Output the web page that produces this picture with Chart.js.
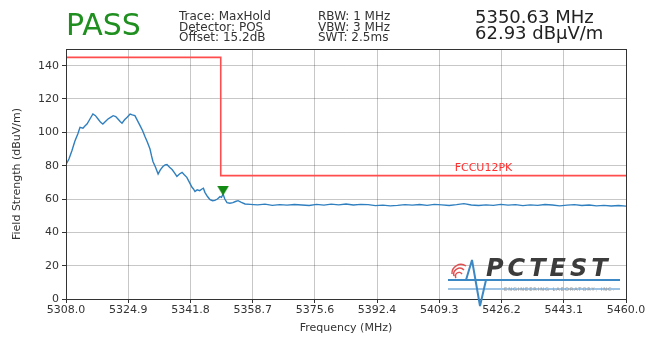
<!DOCTYPE html>
<html>
<head>
<meta charset="utf-8">
<script src="https://cdn.jsdelivr.net/npm/chart.js@4.4.1/dist/chart.umd.min.js"></script>
<style>
  body { margin: 0; background: #fff; }
  #wrap { position: relative; width: 659px; height: 339px; font-family: "DejaVu Sans", sans-serif; color: #333; }
  .hd { position: absolute; white-space: nowrap; }
  #pass { left: 66px; top: 7px; font-size: 30px; color: #1f8f1f; }
  .info { font-size: 12px; line-height: 10.5px; top: 11px; }
  #mk { left: 475px; top: 9px; font-size: 18px; line-height: 16px; color: #222; }
  #logo { position: absolute; left: 444px; top: 252px; width: 180px; height: 56px; }
  #logo .txt { position: absolute; left: 42px; top: 2px; font: italic bold 24px "DejaVu Sans", sans-serif; color: #3c3c3c; letter-spacing: 4px; }
  #logo .sub { position: absolute; left: 60px; top: 34px; font-size: 5px; color: #999; letter-spacing: 1px; }
</style>
</head>
<body>
<div id="wrap">
  <canvas id="chartzz" width="659" height="339"></canvas>
  <div class="hd" id="pass">PASS</div>
  <div class="hd info" style="left:179px">Trace: MaxHold<br>Detector: POS<br>Offset: 15.2dB</div>
  <div class="hd info" style="left:318px">RBW: 1 MHz<br>VBW: 3 MHz<br>SWT: 2.5ms</div>
  <div class="hd" id="mk">5350.63 MHz<br>62.93 dBµV/m</div>
  <div id="logo">
    <svg width="180" height="56" style="position:absolute;left:0;top:0">
      <path d="M8 22 a9 9 0 0 1 14 -8 M10 24 a6 6 0 0 1 10 -6 M12 26 a3 3 0 0 1 6 -4" stroke="#e05050" stroke-width="1.5" fill="none"/>
      <line x1="4" y1="37" x2="176" y2="37" stroke="#9cc3e4" stroke-width="2"/>
      <line x1="4" y1="28" x2="176" y2="28" stroke="#3b88c4" stroke-width="2"/>
      <path d="M4 28 L22 28 L28 8 L36 54 L42 28" stroke="#3b88c4" stroke-width="2" fill="none"/>
    </svg>
    <div class="txt">PCTEST</div>
    <div class="sub">ENGINEERING LABORATORY, INC.</div>
  </div>
</div>
<script>
// trace (MaxHold)
const freqs = [5308.0, 5308.8, 5309.6, 5310.4, 5311.2, 5311.8, 5312.6, 5313.2, 5313.7, 5314.5,
  5315.3, 5316.0, 5316.7, 5317.4, 5318.0, 5318.7, 5319.4, 5320.1, 5320.8, 5321.5,
  5322.1, 5322.7, 5323.2, 5323.9, 5324.6, 5325.4, 5326.0, 5326.7, 5327.4, 5328.1,
  5328.8, 5329.4, 5330.1, 5330.8, 5331.2, 5331.6, 5332.3, 5333.0, 5333.6, 5334.3,
  5334.9, 5335.4, 5336.1, 5336.8, 5337.5, 5338.1, 5338.8, 5339.5, 5340.1, 5340.8,
  5341.5, 5342.2, 5342.6, 5343.0, 5343.6, 5344.3, 5344.9, 5345.3, 5345.7, 5346.4,
  5347.1, 5347.8, 5348.4, 5349.1, 5349.8, 5350.2, 5350.63, 5351.1, 5351.7, 5352.5,
  5353.3, 5354.0, 5354.7, 5355.6, 5356.6, 5358, 5360, 5362, 5364, 5366,
  5368, 5370, 5372, 5374, 5376, 5378, 5380, 5382, 5384, 5386,
  5388, 5390, 5392, 5394, 5396, 5398, 5400, 5402, 5404, 5406,
  5408, 5410, 5412, 5414, 5416, 5418, 5420, 5422, 5424, 5426,
  5428, 5430, 5432, 5434, 5436, 5438, 5440, 5442, 5444, 5446,
  5448, 5450, 5452, 5454, 5456, 5458, 5460];
const levels = [80.7, 84, 89, 94.6, 99, 103, 102.5, 104, 105, 108,
  111, 110, 108, 106, 105, 106.5, 108, 109, 110, 109.5,
  108, 106.5, 105.5, 107.5, 109, 111, 110.5, 110, 107, 104,
  101, 97.6, 94, 90, 86, 82.5, 79, 75, 77.5, 79.5,
  80.5, 80.7, 79, 77.7, 75.5, 73.5, 75, 76, 74.5, 73,
  70, 67, 66, 64.5, 65.5, 65, 66, 66.5, 64, 61.5,
  59.6, 59, 59.2, 60, 61.4, 61, 62.93, 60, 57.8, 57.5,
  57.8, 58.5, 59, 58, 57, 56.8, 56.5, 56.9, 56.2, 56.6,
  56.3, 56.7, 56.4, 56.1, 56.8, 56.3, 56.9, 56.5, 57.0, 56.4,
  56.8, 56.6, 56.0, 56.3, 55.9, 56.2, 56.6, 56.3, 56.7, 56.2,
  56.8, 56.5, 56.1, 56.6, 57.2, 56.4, 56.1, 56.5, 56.2, 56.8,
  56.3, 56.6, 56.0, 56.5, 56.2, 56.7, 56.4, 55.9, 56.3, 56.6,
  56.1, 56.4, 55.9, 56.2, 55.8, 56.1, 55.7];

// FCC limit line (step)
const limitFreqs = [5308, 5350, 5350, 5460];
const limitLevels = [145, 145, 74, 74];
const limitName = 'FCCU12PK';

// peak marker
const markerFreq = [5350.63];
const markerLevel = [62.93];

const xTickValues = [5308.0, 5324.89, 5341.78, 5358.67, 5375.56, 5392.44, 5409.33, 5426.22, 5443.11, 5460.0];
const xTickLabels = ['5308.0', '5324.9', '5341.8', '5358.7', '5375.6', '5392.4', '5409.3', '5426.2', '5443.1', '5460.0'];
const yTickValues = [0, 20, 40, 60, 80, 100, 120, 140];

Chart.defaults.font.family = '"DejaVu Sans", sans-serif';
Chart.defaults.color = '#333';

// downward triangle sitting on top of the point (like matplotlib 'v' marker)
const tri = document.createElement('canvas');
tri.width = 12; tri.height = 17;
const tc = tri.getContext('2d');
tc.fillStyle = '#138a13';
tc.beginPath(); tc.moveTo(0, 0); tc.lineTo(12, 0); tc.lineTo(6, 10); tc.closePath(); tc.fill();

const framePlugin = {
  id: 'frame',
  afterDraw(chart) {
    const c = chart.ctx, a = chart.chartArea;
    c.save();
    c.strokeStyle = '#333';
    c.lineWidth = 1;
    c.strokeRect(Math.round(a.left) + 0.5, Math.round(a.top) + 0.5, Math.round(a.right - a.left), Math.round(a.bottom - a.top));
    // limit label
    c.fillStyle = '#ff3030';
    c.font = '11px "DejaVu Sans", sans-serif';
    c.textBaseline = 'alphabetic';
    c.fillText(limitName, chart.scales.x.getPixelForValue(5413.5), chart.scales.y.getPixelForValue(limitLevels[3]) - 5);
    c.restore();
  }
};

const ctx1 = document.getElementById('chartzz');
const chartzz = new Chart(ctx1, {
  type: 'scatter',
  data: {
    datasets: [{
      label: 'Trace',
      data: freqs.map((f, i) => ({x: f, y: levels[i]})),
      showLine: true,
      borderColor: '#2f7fbf',
      borderWidth: 1.4,
      pointRadius: 0,
      order: 2
    }, {
      label: limitName,
      data: limitFreqs.map((f, i) => ({x: f, y: limitLevels[i]})),
      showLine: true,
      borderColor: '#ff4d4d',
      borderWidth: 1.6,
      pointRadius: 0,
      order: 3
    }, {
      label: 'Marker',
      data: markerFreq.map((f, i) => ({x: f, y: markerLevel[i]})),
      pointStyle: tri,
      pointRadius: 6,
      order: 1
    }]
  },
  options: {
    responsive: false,
    animation: false,
    layout: { padding: { top: 49, right: 33, left: 0, bottom: 0 } },
    plugins: { legend: { display: false }, tooltip: { enabled: false } },
    scales: {
      x: {
        type: 'linear',
        min: 5308, max: 5460,
        afterBuildTicks: s => { s.ticks = xTickValues.map(v => ({value: v})); },
        afterFit: s => { s.height = 40; },
        ticks: {
          callback: (v, i) => xTickLabels[i],
          font: { size: 11 }, color: '#333', maxRotation: 0, padding: 1
        },
        grid: { color: 'rgba(0,0,0,0.22)', tickColor: '#333', tickLength: 4 },
        border: { color: '#333' },
        title: { display: true, text: 'Frequency (MHz)', font: { size: 11 }, color: '#333', padding: { top: 0, bottom: 4 } }
      },
      y: {
        min: 0, max: 150,
        afterBuildTicks: s => { s.ticks = yTickValues.map(v => ({value: v})); },
        afterFit: s => { s.width = 66; },
        ticks: { font: { size: 11 }, color: '#333', padding: 3 },
        grid: { color: 'rgba(0,0,0,0.22)', tickColor: '#333', tickLength: 4 },
        border: { color: '#333' },
        title: { display: true, text: 'Field Strength (dBuV/m)', font: { size: 11 }, color: '#333', padding: { top: 11, bottom: 0 } }
      }
    }
  },
  plugins: [framePlugin]
});
</script>
</body>
</html>
